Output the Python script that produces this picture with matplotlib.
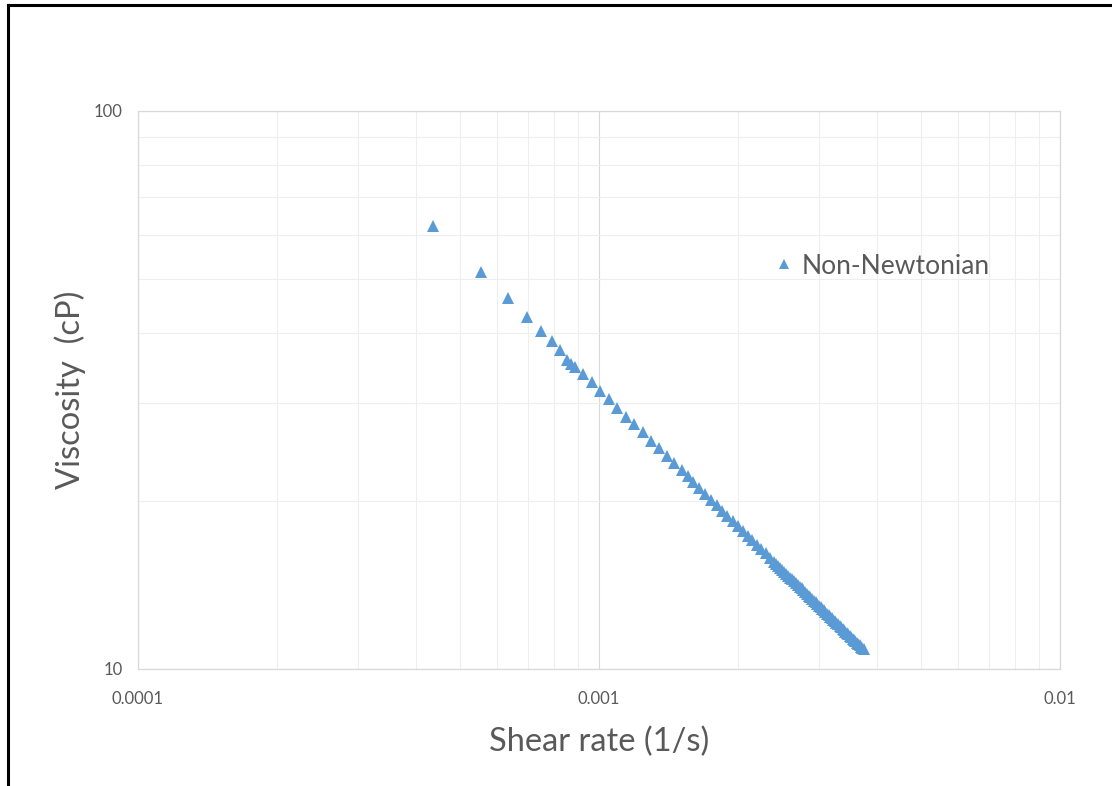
import numpy as np
import matplotlib
matplotlib.use("Agg")
import matplotlib.pyplot as plt
from matplotlib.lines import Line2D

##### Data #####
shear_rate = [0.000437, 0.000555, 0.000635, 0.000698, 0.000748, 0.000792,
              0.000822, 0.000853, 0.000871, 0.000888, 0.000924, 0.000966,
              0.001005, 0.001051, 0.001092, 0.001145, 0.001191, 0.001246,
              0.001297, 0.001349, 0.001405, 0.001455, 0.001514, 0.001560,
              0.00160, 0.00165, 0.00170, 0.00175, 0.00180, 0.00185,
              0.00190, 0.00195, 0.00200, 0.00205, 0.00210, 0.00215,
              0.00220, 0.00225, 0.00230, 0.00235, 0.00240, 0.002425,
              0.00245, 0.002475, 0.00250, 0.002525, 0.00255, 0.002575,
              0.00260, 0.002625, 0.00265, 0.002675, 0.00270, 0.002725,
              0.00275, 0.002775, 0.00280, 0.002825, 0.00285, 0.002875,
              0.00290, 0.002925, 0.00295, 0.002975, 0.00300, 0.003025,
              0.00305, 0.003075, 0.00310, 0.003125, 0.00315, 0.003175,
              0.00320, 0.003225, 0.00325, 0.003275, 0.00330, 0.003325,
              0.00335, 0.003375, 0.00340, 0.003425, 0.00345, 0.003475,
              0.00350, 0.003525, 0.00355, 0.003575, 0.00360, 0.003625,
              0.00365, 0.003675, 0.00370, 0.003725, 0.00375]
viscosity = [62.2, 51.5, 46.2, 42.7, 40.3, 38.7,
             37.3, 35.8, 35.2, 34.8, 33.8, 32.7,
             31.5, 30.5, 29.4, 28.3, 27.5, 26.6,
             25.6, 24.9, 24.1, 23.4, 22.7, 22.2,
             21.62, 21.08, 20.58, 20.10, 19.65, 19.22,
             18.81, 18.42, 18.05, 17.68, 17.34, 17.02,
             16.70, 16.40, 16.11, 15.83, 15.56, 15.43,
             15.30, 15.18, 15.06, 14.94, 14.82, 14.70,
             14.58, 14.47, 14.36, 14.25, 14.15, 14.04,
             13.94, 13.84, 13.74, 13.64, 13.54, 13.45,
             13.36, 13.26, 13.17, 13.08, 12.99, 12.90,
             12.82, 12.73, 12.65, 12.57, 12.49, 12.41,
             12.33, 12.25, 12.18, 12.10, 12.03, 11.95,
             11.88, 11.81, 11.74, 11.67, 11.60, 11.53,
             11.47, 11.40, 11.33, 11.27, 11.21, 11.14,
             11.08, 11.02, 10.96, 10.90, 10.84]
x_ticks = [0.0001, 0.001, 0.01]
x_tick_labels = ["0.0001", "0.001", "0.01"]
y_ticks = [10, 100]
y_tick_labels = ["10", "100"]
series_name = "Non-Newtonian"
##### Data #####

plt.rcParams['font.family'] = ['Lato', 'DejaVu Sans']
text_col = '#595959'

fig = plt.figure(figsize=(11.12, 7.86), dpi=100)
ax = fig.add_axes([0.1241, 0.1489, 0.8291, 0.7099])

ax.plot(shear_rate, viscosity, linestyle='none', marker='^', markersize=9.3,
        color='#5B9BD5', markeredgewidth=0, label=series_name, zorder=3)

ax.set_xscale('log')
ax.set_yscale('log')
ax.set_xlim(0.0001, 0.01)
ax.set_ylim(10, 100)

ax.set_xticks(x_ticks)
ax.set_xticklabels(x_tick_labels)
ax.set_yticks(y_ticks)
ax.set_yticklabels(y_tick_labels)
ax.tick_params(which='both', length=0, labelsize=12, labelcolor=text_col)
ax.tick_params(axis='x', pad=16)
ax.tick_params(axis='y', pad=11)
ax.minorticks_on()
ax.xaxis.set_minor_formatter(plt.NullFormatter())
ax.yaxis.set_minor_formatter(plt.NullFormatter())

ax.grid(which='major', color='#d9d9d9', linewidth=0.8)
ax.grid(which='minor', color='#eeeeee', linewidth=0.8)
ax.set_axisbelow(True)
for s in ax.spines.values():
    s.set_color('#d9d9d9')
    s.set_linewidth(0.9)

ax.set_xlabel("Shear rate (1/s)", fontsize=23.5, color=text_col, labelpad=14)
ax.set_ylabel("Viscosity  (cP)", fontsize=23.5, color=text_col, labelpad=6)

ax.legend(loc='center left', bbox_to_anchor=(773.5 / 1112, 1 - 266 / 786),
          bbox_transform=fig.transFigure, frameon=False, fontsize=19,
          markerscale=0.8, handlelength=0.8, handletextpad=0.25,
          borderpad=0, borderaxespad=0, labelcolor=text_col)

# outer frame (cut at right and bottom)
fig.add_artist(Line2D([7.5 / 1112, 7.5 / 1112], [0, 1 - 4.5 / 786],
                      transform=fig.transFigure, color='black', linewidth=2.2))
fig.add_artist(Line2D([7.5 / 1112, 1], [1 - 4.5 / 786, 1 - 4.5 / 786],
                      transform=fig.transFigure, color='black', linewidth=2.2))

fig.savefig("out.png", dpi=100)
